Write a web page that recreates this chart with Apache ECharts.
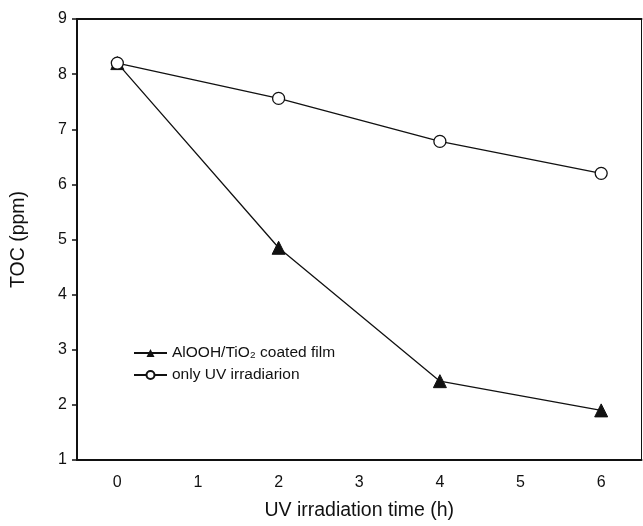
<!DOCTYPE html>
<html>
<head>
<meta charset="utf-8">
<script src="https://cdn.jsdelivr.net/npm/echarts@6/dist/echarts.min.js"></script>
<style>
  html, body { margin: 0; padding: 0; background: #fff; }
  #chart { width: 643px; height: 526px; }
</style>
</head>
<body>
<div id="chart"></div>
<script>
// x categories (h), tick labels on the bottom axis
var hours = ['0', '1', '2', '3', '4', '5', '6'];
// measured points
var sampleHours = ['0', '2', '4', '6'];
var tocFilm = [8.2, 4.85, 2.43, 1.9];
var tocUvOnly = [8.2, 7.56, 6.78, 6.2];

function pairs(xs, ys) {
    var out = [];
    for (var i = 0; i < xs.length; i++) out.push([xs[i], ys[i]]);
    return out;
}

var dom = document.getElementById('chart');
var myChart = echarts.init(dom, null, { renderer: 'canvas' });
var font = 'Liberation Sans, Arial, sans-serif';

var option = {
    animation: false,
    backgroundColor: '#fff',
    grid: {
        left: 77, right: 1.5, top: 19, bottom: 66,
        show: true, borderColor: '#111', borderWidth: 1
    },
    legend: {
        orient: 'vertical',
        left: 133, top: 345,
        padding: 0,
        itemWidth: 33, itemHeight: 10, itemGap: 6,
        textStyle: { fontFamily: font, fontSize: 15.5, color: '#111' },
        data: ['AlOOH/TiO\u2082 coated film', 'only UV irradiarion']
    },
    xAxis: [{
        type: 'category',
        data: hours,
        boundaryGap: true,
        name: 'UV irradiation time (h)',
        nameLocation: 'middle',
        nameGap: 41,
        nameTextStyle: { fontFamily: font, fontSize: 19.5, color: '#111' },
        axisLine: { lineStyle: { color: '#111', width: 2 } },
        axisTick: { alignWithLabel: true, length: 5, lineStyle: { color: '#111', width: 1.5 } },
        axisLabel: { fontFamily: font, fontSize: 16, color: '#111', margin: 15 },
        splitLine: { show: false }
    }, {
        type: 'category',
        data: hours,
        position: 'top',
        axisLine: { lineStyle: { color: '#111', width: 2 } },
        axisTick: { show: false },
        axisLabel: { show: false }
    }],
    yAxis: {
        type: 'value',
        min: 1, max: 9, interval: 1,
        name: 'TOC (ppm)',
        nameLocation: 'middle',
        nameGap: 48,
        nameTextStyle: { fontFamily: font, fontSize: 19.5, color: '#111' },
        axisLine: { show: true, lineStyle: { color: '#111', width: 2 } },
        axisTick: { show: true, length: 5, lineStyle: { color: '#111', width: 1.5 } },
        axisLabel: { fontFamily: font, fontSize: 16, color: '#111', margin: 10 },
        splitLine: { show: false }
    },
    series: [{
        name: 'AlOOH/TiO\u2082 coated film',
        type: 'line',
        data: pairs(sampleHours, tocFilm),
        symbol: 'triangle',
        symbolSize: 13,
        itemStyle: { color: '#111', borderColor: '#111' },
        lineStyle: { color: '#111', width: 1.3 },
        z: 3
    }, {
        name: 'only UV irradiarion',
        type: 'line',
        data: pairs(sampleHours, tocUvOnly),
        symbol: 'circle',
        symbolSize: 12,
        itemStyle: { color: '#fff', borderColor: '#111', borderWidth: 1.3 },
        lineStyle: { color: '#111', width: 1.3 },
        z: 4
    }]
};

myChart.setOption(option);
window.addEventListener('resize', myChart.resize);
</script>
</body>
</html>
